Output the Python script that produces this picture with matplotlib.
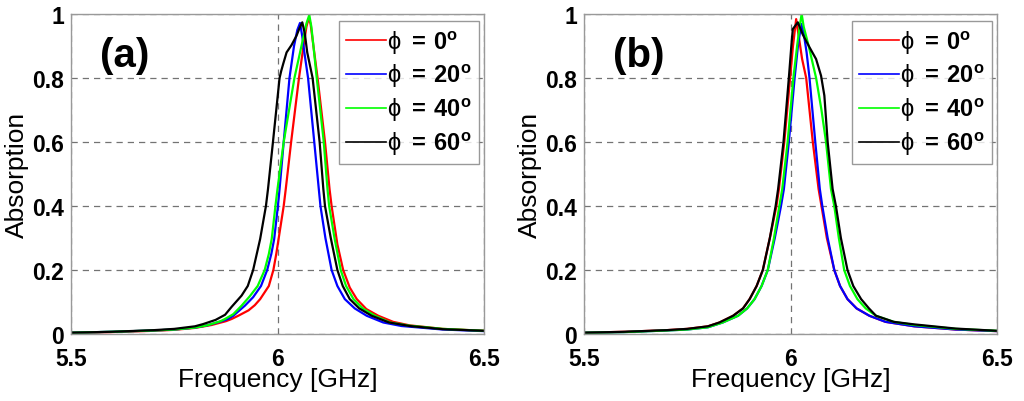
import matplotlib
matplotlib.use("Agg")
import matplotlib.pyplot as plt

plt.rcParams["font.family"] = ["Liberation Sans", "DejaVu Sans"]
plt.rcParams["mathtext.fontset"] = "custom"
plt.rcParams["mathtext.rm"] = "Liberation Sans"
plt.rcParams["mathtext.bf"] = "Liberation Sans:bold"

angles = [0, 20, 40, 60]
colors = ["#ff0000", "#0000ff", "#00ff00", "#000000"]

# panel (a)
a_red_f = [5.50, 5.60, 5.70, 5.75, 5.80, 5.84, 5.875, 5.889, 5.905, 5.93, 5.945, 5.958, 5.979, 5.990, 5.997,
           6.003, 6.015, 6.020, 6.033, 6.052, 6.063, 6.070, 6.075, 6.080, 6.087, 6.097, 6.115, 6.126, 6.131,
           6.145, 6.159, 6.175, 6.192, 6.215, 6.244, 6.28, 6.32, 6.40, 6.50]
a_red_A = [0.004, 0.006, 0.010, 0.013, 0.019, 0.028, 0.040, 0.047, 0.057, 0.074, 0.090, 0.109, 0.150, 0.200,
           0.250, 0.300, 0.400, 0.453, 0.600, 0.800, 0.900, 0.960, 0.985, 0.970, 0.900, 0.800, 0.600,
           0.453, 0.400, 0.280, 0.200, 0.145, 0.109, 0.078, 0.057, 0.038, 0.027, 0.016, 0.010]

a_blue_f = [5.50, 5.60, 5.70, 5.75, 5.80, 5.83, 5.865, 5.88, 5.893, 5.921, 5.941, 5.960, 5.975, 5.985, 5.992,
            6.001, 6.005, 6.015, 6.029, 6.040, 6.048, 6.0545, 6.060, 6.065, 6.074, 6.089, 6.100, 6.104,
            6.116, 6.131, 6.145, 6.163, 6.187, 6.216, 6.256, 6.30, 6.40, 6.50]
a_blue_A = [0.004, 0.007, 0.011, 0.014, 0.020, 0.027, 0.040, 0.047, 0.057, 0.0885, 0.115, 0.150, 0.200, 0.250,
            0.297, 0.400, 0.453, 0.600, 0.800, 0.900, 0.950, 0.972, 0.930, 0.880, 0.800, 0.600, 0.453,
            0.400, 0.300, 0.200, 0.150, 0.109, 0.080, 0.057, 0.036, 0.025, 0.014, 0.009]

a_green_f = [5.50, 5.60, 5.70, 5.75, 5.80, 5.83, 5.862, 5.873, 5.893, 5.913, 5.933, 5.952, 5.969, 5.979, 5.986,
             5.995, 6.000, 6.015, 6.041, 6.058, 6.070, 6.077, 6.082, 6.087, 6.095, 6.112, 6.121, 6.125,
             6.138, 6.153, 6.166, 6.184, 6.206, 6.236, 6.272, 6.32, 6.40, 6.50]
a_green_A = [0.004, 0.007, 0.011, 0.014, 0.020, 0.027, 0.040, 0.047, 0.062, 0.0885, 0.118, 0.150, 0.200, 0.250,
             0.297, 0.400, 0.453, 0.600, 0.800, 0.900, 0.970, 0.997, 0.960, 0.900, 0.800, 0.600, 0.453,
             0.400, 0.300, 0.200, 0.150, 0.109, 0.080, 0.057, 0.036, 0.026, 0.016, 0.010]

a_black_f = [5.50, 5.60, 5.70, 5.75, 5.80, 5.82, 5.85, 5.873, 5.889, 5.913, 5.928, 5.941, 5.958, 5.972,
             5.977, 5.989, 6.005, 6.009, 6.014, 6.022, 6.034, 6.046, 6.054, 6.060, 6.066, 6.072, 6.085, 6.102,
             6.111, 6.115, 6.129, 6.145, 6.158, 6.175, 6.198, 6.228, 6.270, 6.32, 6.40, 6.50]
a_black_A = [0.004, 0.007, 0.012, 0.016, 0.024, 0.031, 0.044, 0.060, 0.085, 0.120, 0.150, 0.200, 0.297, 0.400,
             0.453, 0.600, 0.800, 0.822, 0.845, 0.880, 0.903, 0.932, 0.958, 0.974, 0.940, 0.880, 0.800, 0.600,
             0.453, 0.400, 0.300, 0.200, 0.150, 0.109, 0.080, 0.057, 0.036, 0.025, 0.015, 0.010]

# panel (b)
b_red_f = [5.50, 5.60, 5.70, 5.75, 5.80, 5.828, 5.861, 5.885, 5.901, 5.918, 5.933, 5.950, 5.966, 5.972,
           5.985, 5.999, 6.006, 6.0137, 6.020, 6.028, 6.038, 6.054, 6.068, 6.075, 6.088, 6.106, 6.120,
           6.138, 6.160, 6.191, 6.23, 6.30, 6.40, 6.50]
b_red_A = [0.004, 0.007, 0.012, 0.016, 0.024, 0.036, 0.057, 0.080, 0.109, 0.150, 0.200, 0.300, 0.400, 0.453,
           0.600, 0.800, 0.900, 0.984, 0.930, 0.860, 0.800, 0.600, 0.453, 0.400, 0.300, 0.200, 0.150,
           0.109, 0.080, 0.057, 0.038, 0.024, 0.014, 0.009]

b_blue_f = [5.50, 5.60, 5.70, 5.75, 5.80, 5.836, 5.873, 5.895, 5.913, 5.930, 5.945, 5.962, 5.977, 5.984,
            5.996, 6.010, 6.018, 6.026, 6.032, 6.039, 6.046, 6.060, 6.071, 6.077, 6.090, 6.106, 6.120,
            6.138, 6.160, 6.191, 6.23, 6.30, 6.40, 6.50]
b_blue_A = [0.004, 0.006, 0.011, 0.014, 0.021, 0.036, 0.057, 0.080, 0.109, 0.150, 0.200, 0.300, 0.400, 0.453,
            0.600, 0.800, 0.900, 0.969, 0.940, 0.880, 0.800, 0.600, 0.453, 0.400, 0.300, 0.200, 0.150,
            0.109, 0.080, 0.057, 0.038, 0.024, 0.014, 0.009]

b_green_f = [5.50, 5.60, 5.70, 5.75, 5.80, 5.836, 5.873, 5.895, 5.913, 5.930, 5.945, 5.960, 5.973, 5.980,
             5.993, 6.007, 6.016, 6.022, 6.027, 6.032, 6.044, 6.062, 6.075, 6.086, 6.098, 6.106, 6.117,
             6.130, 6.144, 6.162, 6.182, 6.207, 6.25, 6.30, 6.40, 6.50]
b_green_A = [0.004, 0.006, 0.011, 0.014, 0.021, 0.036, 0.057, 0.080, 0.109, 0.150, 0.200, 0.300, 0.400, 0.453,
             0.600, 0.800, 0.900, 0.960, 1.000, 0.960, 0.900, 0.800, 0.700, 0.600, 0.453, 0.400, 0.300,
             0.200, 0.150, 0.109, 0.080, 0.057, 0.038, 0.028, 0.016, 0.010]

b_black_f = [5.50, 5.60, 5.70, 5.75, 5.80, 5.828, 5.861, 5.885, 5.901, 5.918, 5.933, 5.950, 5.964, 5.970,
             5.983, 5.996, 6.002, 6.0056, 6.0177, 6.030, 6.046, 6.062, 6.074, 6.082, 6.090, 6.102, 6.110,
             6.122, 6.138, 6.152, 6.171, 6.190, 6.207, 6.25, 6.30, 6.40, 6.50]
b_black_A = [0.004, 0.007, 0.012, 0.016, 0.024, 0.036, 0.057, 0.080, 0.109, 0.150, 0.200, 0.300, 0.400, 0.453,
             0.600, 0.800, 0.900, 0.953, 0.974, 0.935, 0.896, 0.859, 0.807, 0.745, 0.600, 0.453, 0.400,
             0.300, 0.200, 0.150, 0.109, 0.080, 0.057, 0.038, 0.030, 0.017, 0.010]

panels = [
    ("(a)", [(a_red_f, a_red_A), (a_blue_f, a_blue_A), (a_green_f, a_green_A), (a_black_f, a_black_A)]),
    ("(b)", [(b_red_f, b_red_A), (b_blue_f, b_blue_A), (b_green_f, b_green_A), (b_black_f, b_black_A)]),
]

x_ticks = [5.5, 6, 6.5]
x_ticklabels = ["5.5", "6", "6.5"]
y_ticks = [0, 0.2, 0.4, 0.6, 0.8, 1]
y_ticklabels = ["0", "0.2", "0.4", "0.6", "0.8", "1"]

fig = plt.figure(figsize=(10.24, 4.02), dpi=100)
lefts = [71 / 1024, 584 / 1024]

for left, (tag, curves) in zip(lefts, panels):
    ax = fig.add_axes([left, 1 - 335 / 402, 413 / 1024, 320 / 402])
    for (f, A), c, ang in zip(curves, colors, angles):
        ax.plot(f, A, color=c, lw=1.6, label=r"ϕ $\mathbf{=\,%d^{o}}$" % ang)

    ax.set_xlim(5.5, 6.5)
    ax.set_ylim(0, 1)
    ax.set_xticks(x_ticks)
    ax.set_xticklabels(x_ticklabels)
    ax.set_yticks(y_ticks)
    ax.set_yticklabels(y_ticklabels)
    ax.tick_params(direction="in", length=0, labelsize=16.5, pad=5)
    ax.tick_params(axis="x", pad=9)
    for lab in ax.get_xticklabels() + ax.get_yticklabels():
        lab.set_fontweight("bold")

    ax.grid(True, color="0.45", linestyle=(0, (5, 4)), lw=0.9)
    ax.set_axisbelow(True)
    for sp in ax.spines.values():
        sp.set_color("0.6")
        sp.set_linewidth(1.0)

    ax.set_xlabel("Frequency [GHz]", fontsize=19)
    ax.set_ylabel("Absorption", fontsize=19)
    ax.xaxis.set_label_coords(0.5, -0.104)
    ax.yaxis.set_label_coords(-0.103, 0.5)

    ax.text(0.07, 0.872, tag, transform=ax.transAxes, fontsize=29, fontweight="bold",
            va="center", ha="left")

    leg = ax.legend(loc="upper right", bbox_to_anchor=(0.988, 0.977),
                    prop={"size": 17}, frameon=True, fancybox=False,
                    handlelength=1.7, handletextpad=0.05, labelspacing=0.28,
                    borderpad=0.3, borderaxespad=0.0)
    leg.get_frame().set_edgecolor("0.5")
    leg.get_frame().set_linewidth(1.0)
    for h in leg.get_lines():
        h.set_linewidth(1.2)

fig.savefig("out.png", dpi=100)
